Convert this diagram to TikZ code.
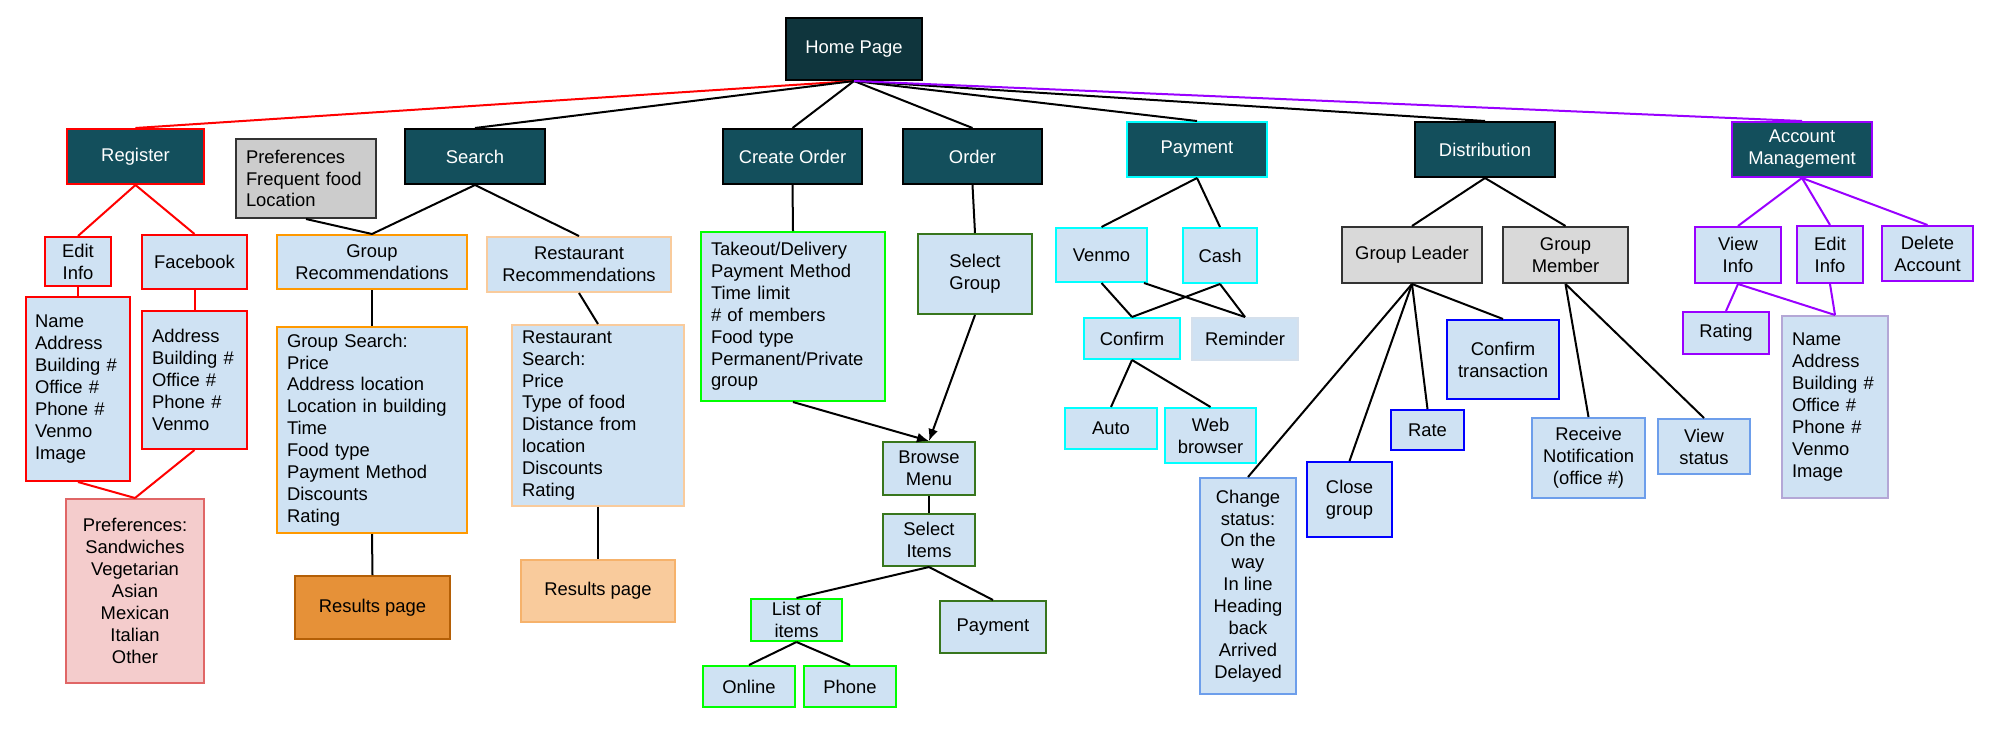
\documentclass[tikz,border=0pt]{standalone}
\usepackage{fontspec}
\setmainfont{Liberation Sans}
\usetikzlibrary{arrows.meta}
\definecolor{tealdark}{HTML}{134F5C}
\definecolor{homefill}{HTML}{0F353D}
\definecolor{lightblue}{HTML}{CFE2F3}
\definecolor{prefgray}{HTML}{CCCCCC}
\definecolor{leadgray}{HTML}{D9D9D9}
\definecolor{bordergray}{HTML}{333333}
\definecolor{myred}{HTML}{FF0000}
\definecolor{mypurple}{HTML}{9900FF}
\definecolor{mycyan}{HTML}{00FFFF}
\definecolor{mygreen}{HTML}{00FF00}
\definecolor{dgreen}{HTML}{38761D}
\definecolor{myorange}{HTML}{FF9900}
\definecolor{lorange}{HTML}{F9CB9C}
\definecolor{lorangeb}{HTML}{F6B26B}
\definecolor{orangefill}{HTML}{E69138}
\definecolor{orangeborder}{HTML}{B45F06}
\definecolor{pinkfill}{HTML}{F4CCCC}
\definecolor{pinkborder}{HTML}{E06666}
\definecolor{remborder}{HTML}{D5E0EC}
\definecolor{myblue}{HTML}{0000FF}
\definecolor{cblue}{HTML}{6D9EEB}
\definecolor{lpurple}{HTML}{B4A7D6}
\tikzset{
  basebox/.style={rectangle, inner sep=0pt, line width=2pt, align=center,
    font=\fontsize{18.4}{21.9}\selectfont},
  darkbox/.style={basebox, fill=tealdark, draw=black, text=white},
  lbbox/.style={basebox, fill=lightblue},
  conn/.style={line width=2pt, black},
  redconn/.style={line width=2pt, myred},
  purconn/.style={line width=2pt, mypurple},
  arrconn/.style={line width=2pt, black, -{Latex[length=12pt,width=10pt]}}
}
\newcommand\mybox[7]{\node[#2, minimum width={#5-#3}, minimum height={#6-#4}] (#1) at ({(#3+#5)/2},{(#4+#6)/2}) {#7};}
\begin{document}
\begin{tikzpicture}[x=1pt,y=-1pt]
\useasboundingbox (0,0) rectangle (2000,753);
% top level
\mybox{home}{darkbox, fill=homefill}{786}{18}{922}{80}{Home Page}
\mybox{reg}{darkbox, draw=myred}{67}{129}{204}{184}{Register}
\mybox{prefs}{basebox, fill=prefgray, draw=bordergray, align=left, text width=120}{236}{139}{376}{218}{Preferences\\Frequent food\\Location}
\mybox{search}{darkbox}{405}{129}{545}{184}{Search}
\mybox{create}{darkbox}{723}{129}{862}{184}{Create Order}
\mybox{order}{darkbox}{903}{129}{1042}{184}{Order}
\mybox{pay}{darkbox, draw=mycyan}{1127}{122}{1267}{177}{Payment}
\mybox{dist}{darkbox}{1415}{122}{1555}{177}{Distribution}
\mybox{acct}{darkbox, draw=mypurple}{1732}{122}{1872}{177}{Account\\Management}
% register
\mybox{editinfo}{lbbox, draw=myred}{45}{237}{111}{286}{Edit\\Info}
\mybox{fb}{lbbox, draw=myred}{142}{235}{247}{289}{Facebook}
\mybox{nameinfo}{lbbox, draw=myred, align=left, text width=86}{26}{297}{130}{481}{Name\\Address\\Building \#\\Office \#\\Phone \#\\Venmo\\Image}
\mybox{fbinfo}{lbbox, draw=myred, align=left, text width=85}{142}{311}{247}{449}{Address\\Building \#\\Office \#\\Phone \#\\Venmo}
\mybox{prefpink}{basebox, fill=pinkfill, draw=pinkborder}{66}{499}{204}{683}{Preferences:\\Sandwiches\\Vegetarian\\Asian\\Mexican\\Italian\\Other}
% search
\mybox{grouprec}{lbbox, draw=myorange}{277}{235}{467}{289}{Group\\Recommendations}
\mybox{restrec}{lbbox, draw=lorange}{487}{237}{671}{292}{Restaurant\\Recommendations}
\mybox{groupsearch}{lbbox, draw=myorange, align=left, text width=170}{277}{327}{467}{533}{Group Search:\\Price\\Address location\\Location in building\\Time\\Food type\\Payment Method\\Discounts\\Rating}
\mybox{restsearch}{lbbox, draw=lorange, align=left, text width=152}{512}{325}{684}{506}{Restaurant\\Search:\\Price\\Type of food\\Distance from\\location\\Discounts\\Rating}
\mybox{resone}{basebox, fill=orangefill, draw=orangeborder}{295}{576}{450}{639}{Results page}
\mybox{restwo}{basebox, fill=lorange, draw=lorangeb}{521}{560}{675}{622}{Results page}
% create order / order
\mybox{createinfo}{lbbox, draw=mygreen, align=left, text width=164}{701}{232}{885}{401}{Takeout/Delivery\\Payment Method\\Time limit\\\# of members\\Food type\\Permanent/Private\\group}
\mybox{selgroup}{lbbox, draw=dgreen}{918}{234}{1032}{314}{Select\\Group}
\mybox{browse}{lbbox, draw=dgreen}{883}{442}{975}{495}{Browse\\Menu}
\mybox{selitems}{lbbox, draw=dgreen}{883}{514}{975}{566}{Select\\Items}
\mybox{listitems}{lbbox, draw=mygreen}{751}{599}{842}{641}{List of\\items}
\mybox{paygreen}{lbbox, draw=dgreen}{940}{601}{1046}{653}{Payment}
\mybox{online}{lbbox, draw=mygreen}{703}{666}{795}{707}{Online}
\mybox{phone}{lbbox, draw=mygreen}{804}{666}{896}{707}{Phone}
% payment
\mybox{venmo}{lbbox, draw=mycyan}{1056}{228}{1147}{282}{Venmo}
\mybox{cash}{lbbox, draw=mycyan}{1183}{228}{1257}{283}{Cash}
\mybox{confirm}{lbbox, draw=mycyan}{1084}{318}{1180}{359}{Confirm}
\mybox{reminder}{lbbox, draw=remborder}{1192}{318}{1298}{360}{Reminder}
\mybox{auto}{lbbox, draw=mycyan}{1065}{408}{1157}{449}{Auto}
\mybox{web}{lbbox, draw=mycyan}{1165}{408}{1256}{463}{Web\\browser}
% distribution
\mybox{leader}{basebox, fill=leadgray, draw=bordergray}{1342}{227}{1482}{283}{Group Leader}
\mybox{member}{basebox, fill=leadgray, draw=bordergray}{1503}{227}{1628}{283}{Group\\Member}
\mybox{conftrans}{lbbox, draw=myblue}{1447}{320}{1559}{399}{Confirm\\transaction}
\mybox{rate}{lbbox, draw=myblue}{1391}{410}{1464}{450}{Rate}
\mybox{closegroup}{lbbox, draw=myblue}{1307}{462}{1392}{537}{Close\\group}
\mybox{status}{lbbox, draw=cblue}{1200}{478}{1296}{694}{Change\\status:\\On the\\way\\In line\\Heading\\back\\Arrived\\Delayed}
\mybox{receive}{lbbox, draw=cblue}{1532}{418}{1645}{498}{Receive\\Notification\\(office \#)}
\mybox{viewstatus}{lbbox, draw=cblue}{1658}{419}{1750}{474}{View\\status}
% account management
\mybox{viewinfo}{lbbox, draw=mypurple}{1695}{227}{1781}{283}{View\\Info}
\mybox{editinfotwo}{lbbox, draw=mypurple}{1797}{226}{1863}{283}{Edit\\Info}
\mybox{deleteacct}{lbbox, draw=mypurple}{1882}{226}{1973}{281}{Delete\\Account}
\mybox{rating}{lbbox, draw=mypurple}{1683}{312}{1769}{354}{Rating}
\mybox{aminfo}{lbbox, draw=lpurple, align=left, text width=86}{1782}{316}{1888}{498}{Name\\Address\\Building \#\\Office \#\\Phone \#\\Venmo\\Image}
% connectors from home
\draw[redconn] (home.south) -- (reg.north);
\draw[conn] (home.south) -- (search.north);
\draw[conn] (home.south) -- (create.north);
\draw[conn] (home.south) -- (order.north);
\draw[conn] (home.south) -- (pay.north);
\draw[conn] (home.south) -- (dist.north);
\draw[purconn] (home.south) -- (acct.north);
% register
\draw[redconn] (reg.south) -- (editinfo.north);
\draw[redconn] (reg.south) -- (fb.north);
\draw[redconn] (editinfo.south) -- (nameinfo.north);
\draw[redconn] (fb.south) -- (fbinfo.north);
\draw[redconn] (nameinfo.south) -- (prefpink.north);
\draw[redconn] (fbinfo.south) -- (prefpink.north);
% search
\draw[conn] (search.south) -- (grouprec.north);
\draw[conn] (prefs.south) -- (grouprec.north);
\draw[conn] (search.south) -- (restrec.north);
\draw[conn] (grouprec.south) -- (groupsearch.north);
\draw[conn] (restrec.south) -- (restsearch.north);
\draw[conn] (groupsearch.south) -- (resone.north);
\draw[conn] (restsearch.south) -- (restwo.north);
% create / order
\draw[conn] (create.south) -- (createinfo.north);
\draw[conn] (order.south) -- (selgroup.north);
\draw[arrconn] (createinfo.south) -- (browse.north);
\draw[arrconn] (selgroup.south) -- (browse.north);
\draw[conn] (browse.south) -- (selitems.north);
\draw[conn] (selitems.south) -- (listitems.north);
\draw[conn] (selitems.south) -- (paygreen.north);
\draw[conn] (listitems.south) -- (online.north);
\draw[conn] (listitems.south) -- (phone.north);
% payment
\draw[conn] (pay.south) -- (venmo.north);
\draw[conn] (pay.south) -- (cash.north);
\draw[conn] (venmo.south) -- (confirm.north);
\draw[conn] ([xshift=-4pt]venmo.south east) -- (reminder.north);
\draw[conn] (cash.south) -- (confirm.north);
\draw[conn] (cash.south) -- (reminder.north);
\draw[conn] (confirm.south) -- (auto.north);
\draw[conn] (confirm.south) -- (web.north);
% distribution
\draw[conn] (dist.south) -- (leader.north);
\draw[conn] (dist.south) -- (member.north);
\draw[conn] (leader.south) -- (status.north);
\draw[conn] (leader.south) -- (closegroup.north);
\draw[conn] (leader.south) -- (rate.north);
\draw[conn] (leader.south) -- (conftrans.north);
\draw[conn] (member.south) -- (receive.north);
\draw[conn] (member.south) -- (viewstatus.north);
% account management
\draw[purconn] (acct.south) -- (viewinfo.north);
\draw[purconn] (acct.south) -- (editinfotwo.north);
\draw[purconn] (acct.south) -- (deleteacct.north);
\draw[purconn] (viewinfo.south) -- (rating.north);
\draw[purconn] (viewinfo.south) -- (aminfo.north);
\draw[purconn] (editinfotwo.south) -- (aminfo.north);
\end{tikzpicture}
\end{document}
